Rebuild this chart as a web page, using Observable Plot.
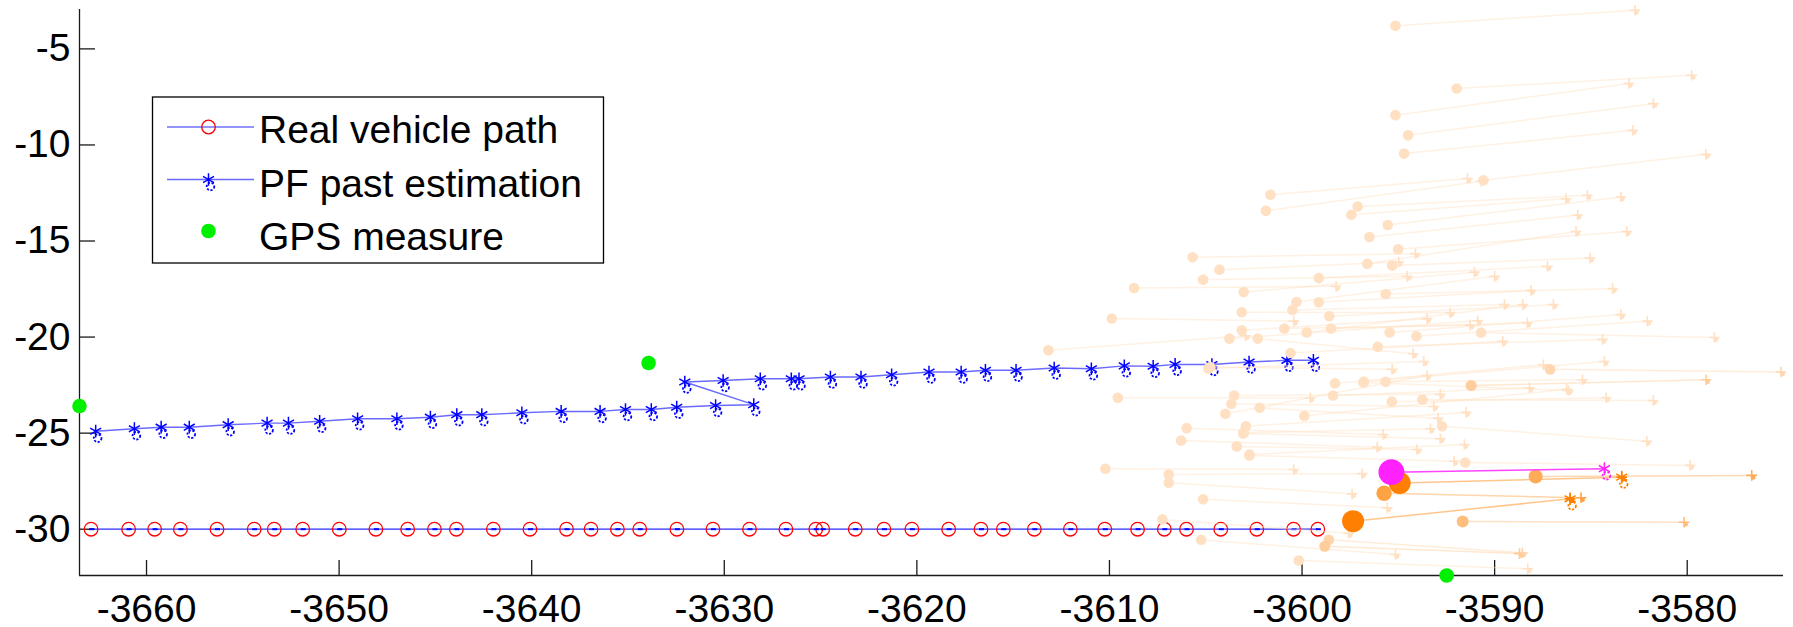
<!DOCTYPE html>
<html>
<head>
<meta charset="utf-8">
<script src="https://cdn.jsdelivr.net/npm/d3@7"></script>
<script src="https://cdn.jsdelivr.net/npm/@observablehq/plot@0.6"></script>
<style>
html, body { margin: 0; padding: 0; background: #fff; }
#chart { width: 1793px; height: 627px; }
</style>
</head>
<body>
<div id="chart"></div>
<script>
// ---------- data ----------
const xTicks = [-3660, -3650, -3640, -3630, -3620, -3610, -3600, -3590, -3580];
const yTicks = [-30, -25, -20, -15, -10, -5];
const xDomain = [-3663.48, -3575.0];
const yDomain = [-32.41, -2.95];

// Real vehicle path
const realX = [-3662.88,-3660.93,-3659.58,-3658.24,-3656.34,-3654.41,-3653.37,-3651.89,-3649.99,-3648.09,
  -3646.44,-3645.05,-3643.91,-3641.99,-3640.09,-3638.19,-3636.92,-3635.55,-3634.39,-3632.46,
  -3630.59,-3628.69,-3626.80,-3625.25,-3624.89,-3623.20,-3621.71,-3620.26,-3618.35,-3616.67,
  -3615.51,-3613.90,-3612.03,-3610.24,-3608.54,-3607.15,-3606.00,-3604.22,-3602.35,-3600.44,-3599.18];
const realY = [-30,-30,-30,-30,-30,-30,-30,-30,-30,-30,
  -30,-30,-30,-30,-30,-30,-30,-30,-30,-30,
  -30,-30,-30,-30,-30,-30,-30,-30,-30,-30,
  -30,-30,-30,-30,-30,-30,-30,-30,-30,-30,-30];

// PF past estimation
const pfX = [-3662.64,-3660.63,-3659.24,-3657.78,-3655.76,-3653.74,-3652.63,-3651.01,-3649.04,-3647.00,
  -3645.26,-3643.89,-3642.59,-3640.51,-3638.47,-3636.45,-3635.13,-3633.79,-3632.47,-3630.45,-3628.47,
  -3632.05,-3630.06,-3628.13,-3626.52,-3626.12,-3624.49,-3622.90,-3621.31,-3619.37,-3617.70,
  -3616.44,-3614.85,-3612.87,-3610.94,-3609.23,-3607.73,-3606.59,-3604.68,-3602.75,-3600.78,-3599.41];
const pfY = [-24.90,-24.77,-24.69,-24.69,-24.56,-24.48,-24.48,-24.38,-24.25,-24.25,
  -24.17,-24.04,-24.04,-23.94,-23.87,-23.87,-23.77,-23.77,-23.65,-23.56,-23.52,
  -22.34,-22.26,-22.17,-22.17,-22.17,-22.08,-22.08,-21.96,-21.82,-21.82,
  -21.73,-21.73,-21.61,-21.65,-21.50,-21.52,-21.42,-21.43,-21.30,-21.21,-21.21];

// GPS measures
const gpsX = [-3663.48, -3633.93, -3592.49];
const gpsY = [-23.59, -21.35, -32.41];

// Particles: start, predicted end, weight
const partX0 = [-3595.15,-3595.15,-3594.49,-3594.70,-3591.97,-3590.58,-3601.64,-3601.88,-3597.11,-3597.44,
  -3595.55,-3596.50,-3595.01,-3605.68,-3604.29,-3605.14,-3596.61,-3595.32,-3599.13,-3603.03,
  -3595.66,-3600.29,-3599.13,-3608.72,-3600.50,-3603.13,-3598.59,-3609.88,-3600.92,-3599.76,
  -3598.49,-3603.13,-3595.45,-3594.06,-3613.17,-3603.77,-3590.70,-3596.07,-3600.60,-3602.30,
  -3604.76,-3587.12,-3598.29,-3596.80,-3595.66,-3591.22,-3609.57,-3603.53,-3603.67,-3602.20,
  -3603.98,-3598.39,-3595.34,-3593.75,-3599.88,-3605.99,-3602.92,-3603.03,-3606.28,-3603.39,
  -3602.73,-3592.73,-3610.21,-3606.92,-3606.92,-3605.14,-3607.25,-3605.24,-3598.61,-3598.82,
  -3600.17,-3591.53,-3591.66,-3587.87,-3595.74,-3597.35,-3594.93,-3604.86,-3596.80,-3602.73,
  -3603.05];
const partY0 = [-3.80,-8.45,-9.50,-10.45,-7.06,-11.84,-12.59,-13.43,-13.21,-13.63,
  -14.17,-14.79,-15.43,-15.85,-16.49,-17.01,-16.18,-16.28,-16.93,-17.66,
  -17.76,-18.18,-18.19,-17.45,-18.59,-18.71,-18.92,-19.03,-19.55,-19.76,
  -19.55,-19.65,-19.76,-19.96,-20.69,-20.08,-19.77,-20.50,-20.83,-20.08,
  -21.56,-21.68,-22.41,-22.32,-22.33,-22.52,-23.16,-23.04,-23.47,-23.68,
  -23.99,-23.04,-23.36,-23.25,-24.11,-24.74,-24.64,-24.98,-25.38,-25.69,
  -26.11,-24.64,-26.85,-27.15,-27.58,-28.44,-29.49,-30.55,-30.55,-30.89,
  -31.63,-26.53,-29.60,-27.26,-28.13,-29.58,-27.60,-21.63,-22.36,-26.16,
  -25.02];
const partX1 = [-3582.71,-3583.03,-3581.76,-3582.83,-3579.77,-3579.03,-3591.41,-3590.69,-3585.18,-3586.29,
  -3583.45,-3585.69,-3583.14,-3594.11,-3594.98,-3594.54,-3585.77,-3585.04,-3587.26,-3591.05,
  -3583.87,-3590.00,-3588.11,-3598.23,-3589.49,-3592.31,-3586.95,-3600.43,-3591.27,-3588.54,
  -3588.30,-3593.51,-3583.45,-3582.07,-3602.94,-3590.88,-3578.59,-3584.40,-3589.58,-3594.23,
  -3595.32,-3575.13,-3587.47,-3584.30,-3585.44,-3579.02,-3599.57,-3592.82,-3593.16,-3592.94,
  -3593.51,-3588.19,-3584.21,-3581.76,-3586.26,-3595.79,-3591.48,-3593.33,-3596.10,-3594.03,
  -3591.57,-3582.10,-3600.43,-3596.88,-3597.40,-3595.58,-3597.58,-3595.15,-3588.56,-3588.71,
  -3588.28,-3579.85,-3580.16,-3576.65,-3585.51,-3586.08,-3583.40,-3593.68,-3586.17,-3592.10,
  -3592.82];
const partY1 = [-2.99,-6.80,-7.85,-9.24,-6.37,-10.49,-11.75,-11.89,-12.62,-12.80,
  -12.71,-13.65,-14.51,-15.66,-16.09,-16.84,-14.51,-15.89,-16.32,-16.62,
  -17.48,-16.84,-17.57,-17.36,-18.31,-18.73,-18.31,-19.17,-19.38,-18.31,
  -19.27,-19.04,-18.83,-19.17,-19.93,-19.15,-20.02,-20.12,-20.22,-20.87,
  -21.68,-21.82,-21.44,-21.27,-22.22,-22.22,-23.16,-22.98,-23.61,-24.23,
  -22.00,-22.64,-23.16,-23.30,-22.72,-25.07,-23.92,-24.77,-25.73,-25.85,
  -25.59,-25.42,-26.89,-27.11,-28.16,-28.89,-30.21,-31.32,-31.23,-31.27,
  -32.06,-26.68,-29.64,-27.20,-28.36,-28.42,-27.29,-21.27,-22.78,-26.46,
  -25.29];
const partW = [0,0,0,0,0,0,0,0,0,0,
  0,0,0,0,0,0,0,0,0,0,
  0,0,0,0,0,0,0,0,0,0,
  0,0,0,0,0,0,0,0,0,0,
  0,0.1,0,0,0,0.2,0,0,0,0,
  0,0,0,0,0,0,0,0,0,0,
  0,0,0,0,0,0,0,0,0.12,0.2,
  0,0,0.35,0.55,0.65,1,1,0,0,0,
  0];

// Best particle (magenta)
const bestX0 = [-3595.36];
const bestY0 = [-27.03];
const bestX1 = [-3584.30];
const bestY1 = [-26.85];
const bestW = [1.155];

// ---------- tables ----------
const real = realX.map((x, i) => ({x, y: realY[i]}));
const pf = pfX.map((x, i) => ({x, y: pfY[i]}));
const gps = gpsX.map((x, i) => ({x, y: gpsY[i]}));
const particles = partX0.map((x0, i) => ({x0, y0: partY0[i], x1: partX1[i], y1: partY1[i], w: partW[i]}))
  .sort((a, b) => a.w - b.w);
const heavy = particles.filter(d => d.w >= 0.9);
const best = bestX0.map((x0, i) => ({x0, y0: bestY0[i], x1: bestX1[i], y1: bestY1[i], w: bestW[i]}));

// ---------- style ----------
const FONT = "'Liberation Sans', Arial, Helvetica, sans-serif";
const FS = 39;
const W = 1793, H = 627;
const mL = 79, mR = 10, mT = 9, mB = 52;
const innerW = W - mL - mR, innerH = H - mT - mB;
const AX = "#1a1a1a";
const dashSym = {draw(ctx) { ctx.rect(-2.5, -1, 5, 2); }};

const svg = Plot.plot({
  width: W, height: H,
  marginLeft: mL, marginRight: mR, marginTop: mT, marginBottom: mB,
  x: {domain: xDomain, label: null},
  y: {domain: yDomain, label: null},
  r: {type: "pow", exponent: 2, domain: [0, 1], range: [5.3, 11]},
  color: {type: "linear", domain: [0, 1], range: ["#ffe0c2", "#ff8000"], interpolate: "rgb"},
  style: {fontFamily: FONT, background: "#fff", color: "#000", overflow: "visible"},
  marks: [
    // axes lines & inward ticks
    Plot.ruleX([xDomain[0]], {stroke: AX, strokeWidth: 1.3}),
    Plot.ruleY([yDomain[0]], {stroke: AX, strokeWidth: 1.3}),
    Plot.ruleX(xTicks, {stroke: AX, strokeWidth: 1.3, insetTop: innerH - 15}),
    Plot.ruleY(yTicks, {stroke: AX, strokeWidth: 1.3, insetRight: innerW - 16}),
    Plot.axisX({ticks: xTicks, tickSize: 0, tickPadding: 19, tickFormat: d => String(d), fontSize: FS, fill: "#000", label: null}),
    Plot.axisY({ticks: yTicks, tickSize: 0, tickPadding: 9, tickFormat: d => String(d), fontSize: FS, fill: "#000", label: null}),

    // real path
    Plot.line(real, {x: "x", y: "y", stroke: "#2a2aff", strokeWidth: 1.2}),
    Plot.dot(real, {x: "x", y: "y", r: 6.8, stroke: "#ff0000", strokeWidth: 1.3, fill: "none"}),
    Plot.dot(real, {x: "x", y: "y", symbol: dashSym, r: 2, fill: "#0000ff", stroke: "none", dx: 0.5}),

    // PF past estimation
    Plot.line(pf, {x: "x", y: "y", stroke: "#6a6aff", strokeWidth: 1.4}),
    Plot.dot(pf, {x: "x", y: "y", symbol: "asterisk", r: 6, stroke: "#0000ff", strokeWidth: 1.5}),
    Plot.dot(pf, {x: "x", y: "y", r: 3.8, dx: 2, dy: 7, stroke: "#0000ff", strokeWidth: 1.8, strokeDasharray: "2.2,1.5", fill: "none"}),

    // particles
    Plot.link(particles, {x1: "x0", y1: "y0", x2: "x1", y2: "y1", stroke: "w", strokeOpacity: 0.45, strokeWidth: 1.5}),
    Plot.dot(particles, {x: "x1", y: "y1", symbol: "plus", r: 3.5, stroke: "w", strokeWidth: 1.6}),
    Plot.dot(particles, {x: "x1", y: "y1", r: 2.4, dx: 1.5, dy: 2, fill: "w"}),
    Plot.dot(heavy, {x: "x1", y: "y1", symbol: "asterisk", r: 6, stroke: "w", strokeWidth: 1.5}),
    Plot.dot(heavy, {x: "x1", y: "y1", r: 3.8, dx: 2, dy: 7, stroke: "w", strokeWidth: 1.8, strokeDasharray: "2.2,1.5", fill: "none"}),
    Plot.dot(particles, {x: "x0", y: "y0", r: "w", fill: "w", sort: null}),

    // best particle
    Plot.link(best, {x1: "x0", y1: "y0", x2: "x1", y2: "y1", stroke: "#ff44ff", strokeWidth: 1.5}),
    Plot.dot(best, {x: "x1", y: "y1", symbol: "asterisk", r: 6, stroke: "#ff22ff", strokeWidth: 1.5}),
    Plot.dot(best, {x: "x1", y: "y1", r: 3.8, dx: 2, dy: 7, stroke: "#ff22ff", strokeWidth: 1.8, strokeDasharray: "2.2,1.5", fill: "none"}),
    Plot.dot(best, {x: "x0", y: "y0", r: "w", fill: "#ff22ff"}),

    // GPS
    Plot.dot(gps, {x: "x", y: "y", r: 7.3, fill: "#00f000"})
  ]
});

// ---------- legend (inside the axes, top-left) ----------
const g = d3.select(svg).append("g")
  .attr("font-family", FONT).attr("font-size", FS).attr("text-anchor", "start").attr("fill", "#000");
g.append("rect").attr("x", 152.5).attr("y", 97).attr("width", 451).attr("height", 166)
  .attr("fill", "#fff").attr("stroke", "#000").attr("stroke-width", 1.3);
const symX = 208.5, lineX1 = 167, lineX2 = 254, textX = 259;
// row 1
g.append("line").attr("x1", lineX1).attr("x2", lineX2).attr("y1", 127).attr("y2", 127)
  .attr("stroke", "#2a2aff").attr("stroke-width", 1.2);
g.append("circle").attr("cx", symX).attr("cy", 127).attr("r", 6.8).attr("fill", "none")
  .attr("stroke", "#ff0000").attr("stroke-width", 1.3);
g.append("text").attr("x", textX).attr("y", 143).attr("text-anchor", "start").text("Real vehicle path");
// row 2
g.append("line").attr("x1", lineX1).attr("x2", lineX2).attr("y1", 179.5).attr("y2", 179.5)
  .attr("stroke", "#6a6aff").attr("stroke-width", 1.4);
g.append("path").attr("d", d3.symbol(d3.symbolAsterisk, Math.PI * 36)())
  .attr("transform", `translate(${symX},179.5)`).attr("fill", "none")
  .attr("stroke", "#0000ff").attr("stroke-width", 1.5);
g.append("circle").attr("cx", symX + 2).attr("cy", 186.5).attr("r", 3.8).attr("fill", "none")
  .attr("stroke", "#0000ff").attr("stroke-width", 1.8).attr("stroke-dasharray", "2.2,1.5");
g.append("text").attr("x", textX).attr("y", 197).attr("text-anchor", "start").text("PF past estimation");
// row 3
g.append("circle").attr("cx", symX).attr("cy", 231).attr("r", 7.3).attr("fill", "#00f000");
g.append("text").attr("x", textX).attr("y", 250).attr("text-anchor", "start").text("GPS measure");

document.getElementById("chart").appendChild(svg);
</script>
</body>
</html>
